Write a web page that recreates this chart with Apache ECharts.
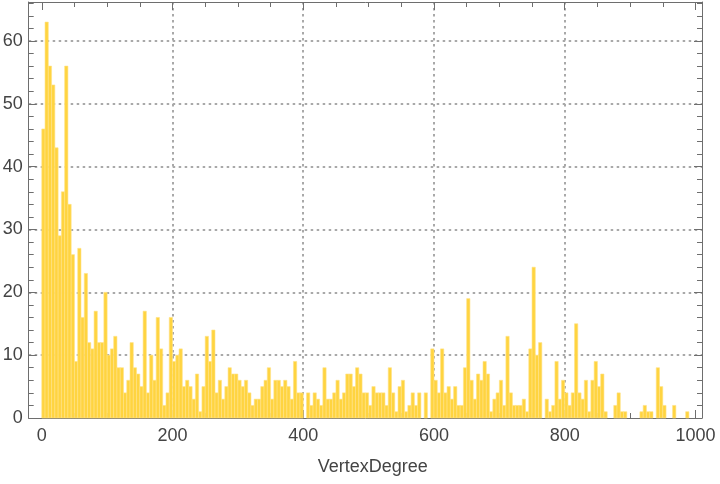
<!DOCTYPE html>
<html><head><meta charset="utf-8">
<script src="https://cdn.jsdelivr.net/npm/echarts@6/dist/echarts.min.js"></script>
<style>html,body{margin:0;padding:0;background:#fff}#c{width:720px;height:484px}</style>
</head><body><div id="c"></div>
<script>
// Histogram of VertexDegree, bins of width 5 starting at 0
const binStart = 0;
const binWidth = 5;
const counts = [
  46, 63, 56, 53, 43, 29, 36, 56, 34, 26,
  9, 27, 16, 23, 12, 11, 17, 12, 12, 20,
  10, 11, 13, 8, 8, 4, 6, 12, 8, 7,
  5, 17, 4, 10, 6, 16, 11, 2, 4, 16,
  9, 10, 11, 5, 6, 5, 3, 7, 1, 5,
  13, 9, 14, 4, 6, 3, 5, 8, 7, 7,
  6, 5, 6, 4, 2, 3, 3, 5, 6, 8,
  3, 6, 6, 5, 6, 5, 3, 9, 4, 4,
  0, 4, 2, 4, 3, 2, 8, 3, 3, 4,
  6, 3, 4, 7, 7, 5, 8, 7, 4, 4,
  2, 5, 4, 4, 4, 2, 8, 4, 1, 5,
  6, 1, 2, 4, 2, 4, 0, 4, 0, 11,
  6, 4, 11, 4, 5, 3, 5, 2, 2, 8,
  19, 6, 3, 7, 6, 9, 7, 1, 3, 4,
  6, 2, 13, 4, 2, 2, 2, 3, 1, 11,
  24, 10, 12, 0, 3, 1, 2, 9, 3, 6,
  4, 2, 4, 15, 4, 3, 6, 1, 6, 9,
  5, 7, 1, 0, 0, 2, 4, 1, 1, 0,
  0, 0, 0, 1, 2, 1, 1, 0, 8, 5,
  2, 0, 0, 2, 0, 0, 0, 1, 0, 0
];
const xTickLabels = [0, 200, 400, 600, 800, 1000];
const xMinorTicks = [50, 100, 150, 250, 300, 350, 450, 500, 550, 650, 700, 750, 850, 900, 950];
const xGridValues = [200, 400, 600, 800];
const yTickLabels = [0, 10, 20, 30, 40, 50, 60];
const yMinorTicks = [2,4,6,8,12,14,16,18,22,24,26,28,32,34,36,38,42,44,46,48,52,54,56,58,62,64,66];
const yGridValues = [10, 20, 30, 40, 50, 60];
const xName = 'VertexDegree';

const xMin = -20, xMax = 1010, yMin = 0, yMax = 66.2;
const axisColor = '#6e6e6e';
const labelColor = '#444444';
const fontFam = 'Liberation Sans, Arial, sans-serif';

const binData = counts.map((c, i) => [binStart + i * binWidth, binStart + (i + 1) * binWidth, c]);

function tickAxis(kind, pos, ticks, len, extra) {
  const base = {
    type: 'value', position: pos,
    min: kind === 'x' ? xMin : yMin, max: kind === 'x' ? xMax : yMax,
    axisLine: {show: false, onZero: false},
    axisTick: {show: true, inside: true, length: len, customValues: ticks, lineStyle: {color: axisColor, width: 1}},
    axisLabel: {show: false},
    splitLine: {show: false},
    minorTick: {show: false},
    z: 0
  };
  return Object.assign(base, extra || {});
}

const dotted = {color: '#a9a9a9', width: 2, type: [2.5, 3.5]};

const xAxes = [
  tickAxis('x', 'bottom', xTickLabels, 8, {
    axisLine: {show: true, onZero: false, lineStyle: {color: axisColor, width: 1}},
    axisLabel: {show: true, customValues: xTickLabels, color: labelColor, fontSize: 18, fontFamily: fontFam, margin: 9,
      formatter: function (v) { return String(v); }},
    name: xName, nameLocation: 'middle', nameGap: 40,
    nameTextStyle: {color: labelColor, fontSize: 18, fontFamily: fontFam, padding: [0, 0, 0, 15]}
  }),
  tickAxis('x', 'bottom', xMinorTicks, 5),
  tickAxis('x', 'top', xTickLabels, 8, {axisLine: {show: true, onZero: false, lineStyle: {color: axisColor, width: 1}}}),
  tickAxis('x', 'top', xMinorTicks, 5),
  tickAxis('x', 'bottom', xGridValues, 0, {axisTick: {show: false, customValues: xGridValues}, splitLine: {show: true, lineStyle: dotted}})
];
const yAxes = [
  tickAxis('y', 'left', yTickLabels, 8, {
    axisLine: {show: true, onZero: false, lineStyle: {color: axisColor, width: 1}},
    axisLabel: {show: true, customValues: yTickLabels, color: labelColor, fontSize: 18, fontFamily: fontFam, margin: 6,
      formatter: function (v) { return String(v); }}
  }),
  tickAxis('y', 'left', yMinorTicks, 5),
  tickAxis('y', 'right', yTickLabels, 8, {axisLine: {show: true, onZero: false, lineStyle: {color: axisColor, width: 1}}}),
  tickAxis('y', 'right', yMinorTicks, 5),
  tickAxis('y', 'left', yGridValues, 0, {axisTick: {show: false, customValues: yGridValues}, splitLine: {show: true, lineStyle: dotted}})
];

const chart = echarts.init(document.getElementById('c'), null, {renderer: 'canvas'});
chart.setOption({
  animation: false,
  backgroundColor: '#ffffff',
  grid: {left: 28.7, right: 18, top: 2, bottom: 66, containLabel: false, outerBoundsMode: 'none'},
  xAxis: xAxes,
  yAxis: yAxes,
  series: [{
    type: 'custom',
    xAxisIndex: 0, yAxisIndex: 0,
    data: binData,
    encode: {x: [0, 1], y: 2},
    z: 3,
    renderItem: function (params, api) {
      const v = api.value(2);
      if (!(v > 0)) return null;
      const p0 = api.coord([api.value(0), 0]);
      const p1 = api.coord([api.value(1), v]);
      return {
        type: 'rect',
        shape: {x: p0[0], y: p1[1], width: p1[0] - p0[0], height: p0[1] - p1[1]},
        style: {fill: '#ffd440', stroke: '#ffe387', lineWidth: 0.6}
      };
    }
  }]
});
</script>
</body></html>
